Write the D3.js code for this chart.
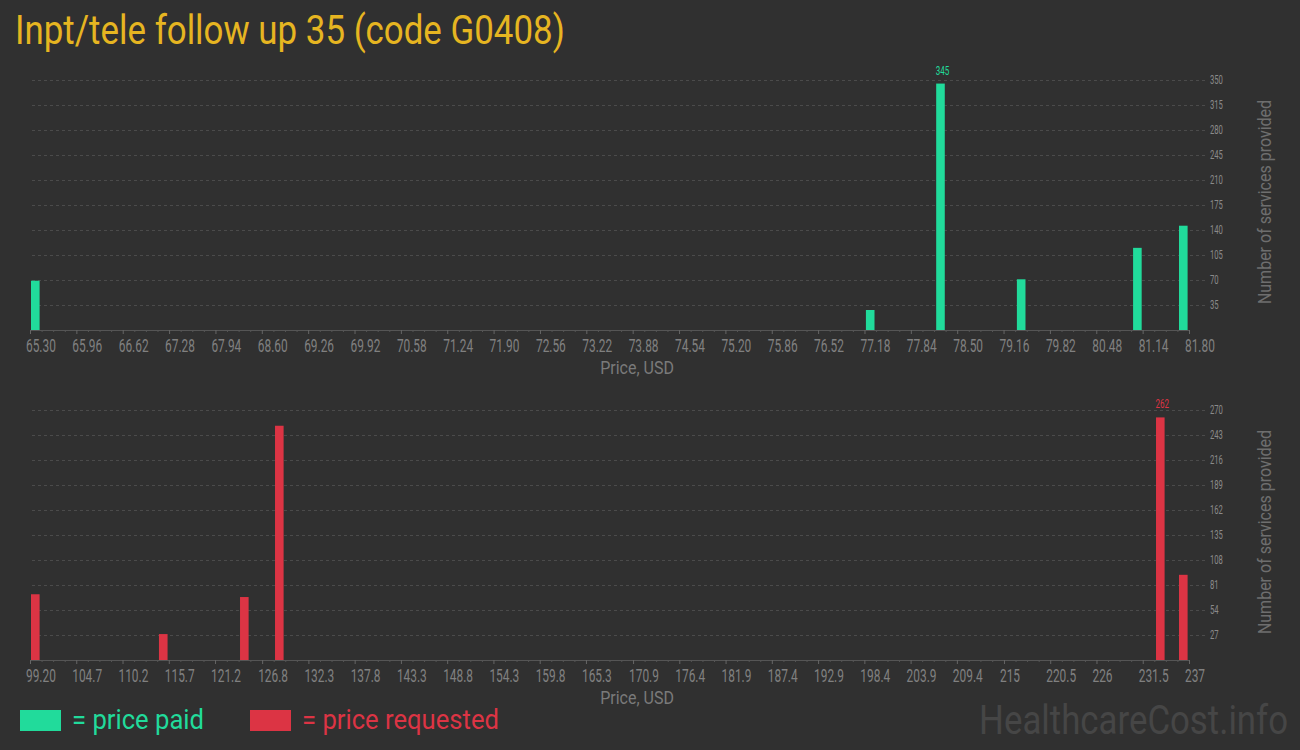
<!DOCTYPE html>
<html>
<head>
<meta charset="utf-8">
<script src="https://cdn.jsdelivr.net/npm/d3@7"></script>
<style>
  html, body { margin: 0; padding: 0; background: #303030; }
  svg { display: block; }
  text { font-family: Roboto, "Noto Sans", sans-serif; }
</style>
</head>
<body>
<svg id="chart" width="1300" height="750"></svg>
<script>
// ---------- data ----------
const titleText = "Inpt/tele follow up 35 (code G0408)";

const paidPrices = [65.30, 77.30, 78.31, 79.47, 81.14, 81.80];
const paidCounts = [69, 28, 345, 71, 115, 146];
const paidXTicks = ["65.30","65.96","66.62","67.28","67.94","68.60","69.26","69.92","70.58","71.24","71.90","72.56","73.22","73.88","74.54","75.20","75.86","76.52","77.18","77.84","78.50","79.16","79.82","80.48","81.14","81.80"];
const paidYTicks = [35, 70, 105, 140, 175, 210, 245, 280, 315, 350];

const reqPrices = [99.20, 114.56, 124.29, 128.49, 234.24, 237.00];
const reqCounts = [71, 28, 68, 253, 262, 92];
const reqXTicks = ["99.20","104.7","110.2","115.7","121.2","126.8","132.3","137.8","143.3","148.8","154.3","159.8","165.3","170.9","176.4","181.9","187.4","192.9","198.4","203.9","209.4","215","220.5","226","231.5","237"];
const reqYTicks = [27, 54, 81, 108, 135, 162, 189, 216, 243, 270];

const legendLabels = ["= price paid", "= price requested"];
const colors = { paid: "#21db9b", req: "#dc3444", title: "#e6b521" };

// ---------- drawing ----------
const svg = d3.select("#chart");
svg.append("rect").attr("width", 1300).attr("height", 750).attr("fill", "#303030");

svg.append("g").attr("transform", "translate(15,44) scale(0.872,1)")
  .append("text").attr("fill", colors.title).attr("font-size", 40).text(titleText);

const X0 = 30, X1 = 1189, GRID_R = 1205, BAR_W = 8.6;

function panel(opts) {
  const { prices, counts, xTicks, yTicks, color, base, top } = opts;
  const domain = [+xTicks[0], +xTicks[xTicks.length - 1]];
  const x = d3.scaleLinear().domain(domain).range([X0, X1]);
  const xb = d3.scaleLinear().domain(domain).range([X0 + 1, X1 - 10]);
  const y = d3.scaleLinear().domain([0, yTicks[yTicks.length - 1]]).range([base, top]);
  const g = svg.append("g");

  // gridlines + right axis
  const yAxis = g.append("g").attr("transform", `translate(${GRID_R},0)`)
    .call(d3.axisRight(y).tickValues(yTicks).tickSize(-(GRID_R - 32)).tickPadding(5).tickFormat(d3.format("d")));
  yAxis.select(".domain").remove();
  yAxis.selectAll(".tick line").attr("stroke", "#4b4b4b").attr("stroke-dasharray", "3,3");
  yAxis.selectAll(".tick text")
    .attr("x", 0).attr("dy", "0.3em")
    .attr("transform", "translate(5,0) scale(0.64,1)")
    .attr("fill", "#8a8a8a").attr("font-size", 12).attr("font-family", "Roboto");

  // bars
  const data = prices.map((p, i) => ({ p, c: counts[i] }));
  g.append("g").selectAll("rect").data(data).join("rect")
    .attr("x", d => xb(d.p)).attr("width", BAR_W)
    .attr("y", d => y(d.c)).attr("height", d => base - y(d.c))
    .attr("fill", color);

  // max label
  const maxD = data.reduce((a, b) => (b.c > a.c ? b : a));
  g.append("g").attr("transform", `translate(${xb(maxD.p) + BAR_W / 2 + 2},${y(maxD.c) - 9}) scale(0.62,1)`)
    .append("text").attr("text-anchor", "middle").attr("fill", color).attr("font-size", 13)
    .text(maxD.c);

  // x axis minor ticks
  const tv = xTicks.map(Number);
  const minor = [];
  for (let i = 0; i < tv.length - 1; i++) {
    for (let k = 1; k < 4; k++) minor.push(x.invert(x(tv[i]) + (x(tv[i + 1]) - x(tv[i])) * k / 4));
  }
  const xMinor = g.append("g").attr("transform", `translate(0,${base})`)
    .call(d3.axisBottom(x).tickValues(minor).tickSize(2).tickSizeOuter(0).tickFormat(""));
  xMinor.select(".domain").attr("stroke", "#555");
  xMinor.selectAll(".tick line").attr("stroke", "#555");

  const xAxis = g.append("g").attr("transform", `translate(0,${base})`)
    .call(d3.axisBottom(x).tickValues(tv).tickSize(4).tickSizeOuter(0)
      .tickFormat((d, i) => xTicks[i]));
  xAxis.select(".domain").attr("stroke", "#555");
  xAxis.selectAll(".tick line").attr("stroke", "#666");
  xAxis.selectAll(".tick text")
    .attr("x", 0).attr("y", 22.5).attr("dy", null)
    .attr("text-anchor", "start")
    .attr("transform", "translate(-4.5,0) scale(0.66,1)")
    .attr("fill", "#808080").attr("font-size", 18).attr("font-family", "Roboto");

  // axis titles
  svg.append("g").attr("transform", `translate(637,${base + 44}) scale(0.89,1)`)
    .append("text").attr("text-anchor", "middle").attr("fill", "#7a7a7a").attr("font-size", 18)
    .text("Price, USD");
  svg.append("g").attr("transform", `translate(1271,${(base + top) / 2 - 3}) rotate(-90) scale(0.89,1)`)
    .append("text").attr("text-anchor", "middle").attr("fill", "#6e6e6e").attr("font-size", 18)
    .text("Number of services provided");
}

panel({ prices: paidPrices, counts: paidCounts, xTicks: paidXTicks, yTicks: paidYTicks, color: colors.paid, base: 330, top: 80 });
panel({ prices: reqPrices, counts: reqCounts, xTicks: reqXTicks, yTicks: reqYTicks, color: colors.req, base: 660, top: 410 });

// legend
const legend = svg.append("g");
const legItems = [{ label: legendLabels[0], color: colors.paid, x: 20 }, { label: legendLabels[1], color: colors.req, x: 250 }];
legItems.forEach(it => {
  legend.append("rect").attr("x", it.x).attr("y", 710).attr("width", 41).attr("height", 21).attr("fill", it.color);
  legend.append("g").attr("transform", `translate(${it.x + 52},729) scale(0.915,1)`)
    .append("text").attr("fill", it.color).attr("font-size", 28).text(it.label);
});

// watermark
svg.append("g").attr("transform", "translate(1288,734) scale(0.87,1)")
  .append("text").attr("text-anchor", "end").attr("fill", "#464646").attr("font-size", 40)
  .text("HealthcareCost.info");
</script>
</body>
</html>
